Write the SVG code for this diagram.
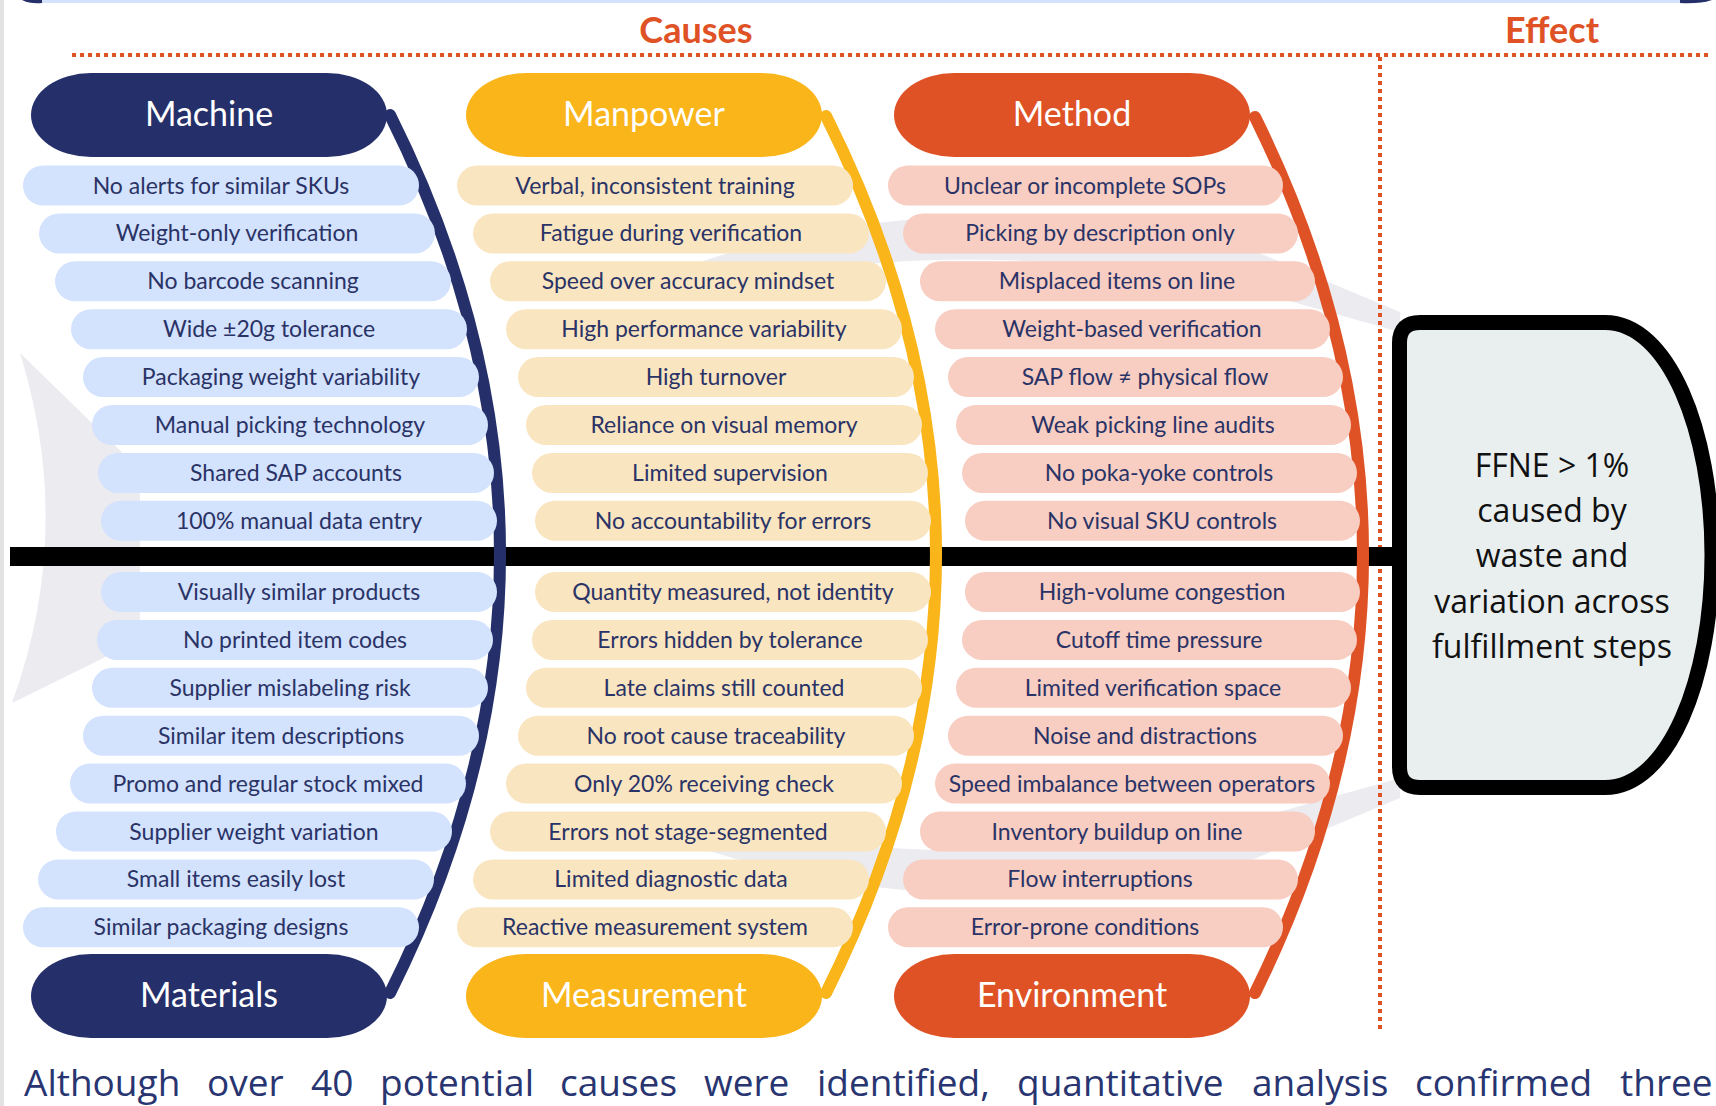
<svg xmlns="http://www.w3.org/2000/svg" width="1716" height="1106" viewBox="0 0 1716 1106">
  <style>
    .ghost { fill: #ebebf0; }
    .pm { fill: #d3e2fd; }
    .pp { fill: #fae5c1; }
    .pe { fill: #f8cdc2; }
    .t { font-family: Lato, "Liberation Sans", sans-serif; font-size: 23px; fill: #2a3366; text-anchor: middle; }
    .cat { font-family: Lato, "Liberation Sans", sans-serif; font-size: 34px; fill: #ffffff; text-anchor: middle; }
    .head { font-family: Lato, "Liberation Sans", sans-serif; font-size: 36px; font-weight: 700; fill: #df5226; text-anchor: middle; }
    .bone { fill: none; stroke-width: 12; stroke-linecap: round; }
    .dots { stroke: #df5226; stroke-width: 4; stroke-dasharray: 4 4; fill: none; }
    .eff { font-family: "Open Sans", "Liberation Sans", sans-serif; font-size: 32px; fill: #111111; text-anchor: middle; }
    .note { font-family: "Open Sans", "Liberation Sans", sans-serif; font-size: 37px; fill: #283570; }
  </style>

  <rect width="1716" height="1106" fill="#ffffff"/>
  <!-- page edge and the bottom of the block above -->
  <rect x="0" y="0" width="4" height="1106" fill="#e2e2e2"/>
  <rect x="40" y="0" width="1642" height="3" fill="#d3e2fd"/>
  <path d="M22,0 Q30,4 42,3 L42,0 Z" fill="#25306b"/>
  <path d="M1680,3 Q1700,4 1712,0 L1680,0 Z" fill="#25306b"/>

  <!-- faint fish skeleton watermark -->
  <g id="watermark">
    <path class="ghost" d="M20,353 L140,470 L140,640 L12,703 Q75,530 20,353 Z"/>
    <path class="ghost" d="M700,262 Q950,180 1240,245 L1400,312 L1400,332 L1250,290 Q950,228 700,292 Z"/>
    <path class="ghost" d="M700,848 Q950,930 1240,865 L1400,798 L1400,778 L1250,820 Q950,882 700,818 Z"/>
  </g>

  <!-- section headings and dividers -->
  <g id="headings">
    <text class="head" x="696" y="43">Causes</text>
    <text class="head" x="1552" y="43">Effect</text>
    <line class="dots" x1="72" y1="55" x2="1710" y2="55"/>
    <line class="dots" x1="1380" y1="57" x2="1380" y2="1033"/>
  </g>

  <!-- connectors: spine and category bones -->
  <g id="connectors">
    <rect x="10" y="547" width="1385" height="19" fill="#000000"/>
    <path class="bone" stroke="#25306b" d="M390,115 Q610,554 390,993"/>
    <path class="bone" stroke="#f9b51a" d="M826,116 Q1046,554 826,993"/>
    <path class="bone" stroke="#df5226" d="M1255,117 Q1471,554 1255,993"/>
  </g>

  <!-- effect -->
  <g id="effect">
    <path d="M1420,322.5 H1605 C1668,322.5 1712,430 1712,555 C1712,680 1668,787.5 1605,787.5 H1420 Q1399.5,787.5 1399.5,767 V343 Q1399.5,322.5 1420,322.5 Z" fill="#e9efef" stroke="#000000" stroke-width="15" stroke-linejoin="round"/>
    <text class="eff" x="1552" y="477">FFNE &gt; 1%</text>
    <text class="eff" x="1552" y="522">caused by</text>
    <text class="eff" x="1552" y="567">waste and</text>
    <text class="eff" x="1552" y="613">variation across</text>
    <text class="eff" x="1552" y="658">fulfillment steps</text>
  </g>

  <!-- category heads -->
  <g id="cat-machine"><rect x="31" y="73" width="356" height="84" rx="60" ry="42" fill="#25306b"/><text class="cat" x="209" y="126">Machine</text></g>
  <g id="cat-manpower"><rect x="466" y="73" width="356" height="84" rx="60" ry="42" fill="#f9b51a"/><text class="cat" x="644" y="126">Manpower</text></g>
  <g id="cat-method"><rect x="894" y="73" width="356" height="84" rx="60" ry="42" fill="#df5226"/><text class="cat" x="1072" y="126">Method</text></g>
  <g id="cat-materials"><rect x="31" y="954" width="356" height="84" rx="60" ry="42" fill="#25306b"/><text class="cat" x="209" y="1007">Materials</text></g>
  <g id="cat-measurement"><rect x="466" y="954" width="356" height="84" rx="60" ry="42" fill="#f9b51a"/><text class="cat" x="644" y="1007">Measurement</text></g>
  <g id="cat-environment"><rect x="894" y="954" width="356" height="84" rx="60" ry="42" fill="#df5226"/><text class="cat" x="1072" y="1007">Environment</text></g>

  <!-- Machine causes -->
  <g id="machine-1"><rect class="pm" x="23" y="165.5" width="396" height="40" rx="20"/><text class="t" x="221" y="193.5">No alerts for similar SKUs</text></g>
  <g id="machine-2"><rect class="pm" x="39" y="213.4" width="396" height="40" rx="20"/><text class="t" x="237" y="241.4">Weight-only verification</text></g>
  <g id="machine-3"><rect class="pm" x="55" y="261.3" width="396" height="40" rx="20"/><text class="t" x="253" y="289.3">No barcode scanning</text></g>
  <g id="machine-4"><rect class="pm" x="71" y="309.2" width="396" height="40" rx="20"/><text class="t" x="269" y="337.2">Wide ±20g tolerance</text></g>
  <g id="machine-5"><rect class="pm" x="83" y="357.1" width="396" height="40" rx="20"/><text class="t" x="281" y="385.1">Packaging weight variability</text></g>
  <g id="machine-6"><rect class="pm" x="92" y="405" width="396" height="40" rx="20"/><text class="t" x="290" y="433">Manual picking technology</text></g>
  <g id="machine-7"><rect class="pm" x="98" y="452.9" width="396" height="40" rx="20"/><text class="t" x="296" y="480.9">Shared SAP accounts</text></g>
  <g id="machine-8"><rect class="pm" x="101" y="500.8" width="396" height="40" rx="20"/><text class="t" x="299" y="528.8">100% manual data entry</text></g>

  <!-- Materials causes -->
  <g id="materials-1"><rect class="pm" x="101" y="572" width="396" height="40" rx="20"/><text class="t" x="299" y="600">Visually similar products</text></g>
  <g id="materials-2"><rect class="pm" x="97" y="619.9" width="396" height="40" rx="20"/><text class="t" x="295" y="647.9">No printed item codes</text></g>
  <g id="materials-3"><rect class="pm" x="92" y="667.8" width="396" height="40" rx="20"/><text class="t" x="290" y="695.8">Supplier mislabeling risk</text></g>
  <g id="materials-4"><rect class="pm" x="83" y="715.7" width="396" height="40" rx="20"/><text class="t" x="281" y="743.7">Similar item descriptions</text></g>
  <g id="materials-5"><rect class="pm" x="70" y="763.6" width="396" height="40" rx="20"/><text class="t" x="268" y="791.6">Promo and regular stock mixed</text></g>
  <g id="materials-6"><rect class="pm" x="56" y="811.5" width="396" height="40" rx="20"/><text class="t" x="254" y="839.5">Supplier weight variation</text></g>
  <g id="materials-7"><rect class="pm" x="38" y="859.4" width="396" height="40" rx="20"/><text class="t" x="236" y="887.4">Small items easily lost</text></g>
  <g id="materials-8"><rect class="pm" x="23" y="907.3" width="396" height="40" rx="20"/><text class="t" x="221" y="935.3">Similar packaging designs</text></g>

  <!-- Manpower causes -->
  <g id="manpower-1"><rect class="pp" x="457" y="165.5" width="396" height="40" rx="20"/><text class="t" x="655" y="193.5">Verbal, inconsistent training</text></g>
  <g id="manpower-2"><rect class="pp" x="473" y="213.4" width="396" height="40" rx="20"/><text class="t" x="671" y="241.4">Fatigue during verification</text></g>
  <g id="manpower-3"><rect class="pp" x="490" y="261.3" width="396" height="40" rx="20"/><text class="t" x="688" y="289.3">Speed over accuracy mindset</text></g>
  <g id="manpower-4"><rect class="pp" x="506" y="309.2" width="396" height="40" rx="20"/><text class="t" x="704" y="337.2">High performance variability</text></g>
  <g id="manpower-5"><rect class="pp" x="518" y="357.1" width="396" height="40" rx="20"/><text class="t" x="716" y="385.1">High turnover</text></g>
  <g id="manpower-6"><rect class="pp" x="526" y="405" width="396" height="40" rx="20"/><text class="t" x="724" y="433">Reliance on visual memory</text></g>
  <g id="manpower-7"><rect class="pp" x="532" y="452.9" width="396" height="40" rx="20"/><text class="t" x="730" y="480.9">Limited supervision</text></g>
  <g id="manpower-8"><rect class="pp" x="535" y="500.8" width="396" height="40" rx="20"/><text class="t" x="733" y="528.8">No accountability for errors</text></g>

  <!-- Measurement causes -->
  <g id="measurement-1"><rect class="pp" x="535" y="572" width="396" height="40" rx="20"/><text class="t" x="733" y="600">Quantity measured, not identity</text></g>
  <g id="measurement-2"><rect class="pp" x="532" y="619.9" width="396" height="40" rx="20"/><text class="t" x="730" y="647.9">Errors hidden by tolerance</text></g>
  <g id="measurement-3"><rect class="pp" x="526" y="667.8" width="396" height="40" rx="20"/><text class="t" x="724" y="695.8">Late claims still counted</text></g>
  <g id="measurement-4"><rect class="pp" x="518" y="715.7" width="396" height="40" rx="20"/><text class="t" x="716" y="743.7">No root cause traceability</text></g>
  <g id="measurement-5"><rect class="pp" x="506" y="763.6" width="396" height="40" rx="20"/><text class="t" x="704" y="791.6">Only 20% receiving check</text></g>
  <g id="measurement-6"><rect class="pp" x="490" y="811.5" width="396" height="40" rx="20"/><text class="t" x="688" y="839.5">Errors not stage-segmented</text></g>
  <g id="measurement-7"><rect class="pp" x="473" y="859.4" width="396" height="40" rx="20"/><text class="t" x="671" y="887.4">Limited diagnostic data</text></g>
  <g id="measurement-8"><rect class="pp" x="457" y="907.3" width="396" height="40" rx="20"/><text class="t" x="655" y="935.3">Reactive measurement system</text></g>

  <!-- Method causes -->
  <g id="method-1"><rect class="pe" x="888" y="165.5" width="395" height="40" rx="20"/><text class="t" x="1085" y="193.5">Unclear or incomplete SOPs</text></g>
  <g id="method-2"><rect class="pe" x="903" y="213.4" width="395" height="40" rx="20"/><text class="t" x="1100" y="241.4">Picking by description only</text></g>
  <g id="method-3"><rect class="pe" x="920" y="261.3" width="395" height="40" rx="20"/><text class="t" x="1117" y="289.3">Misplaced items on line</text></g>
  <g id="method-4"><rect class="pe" x="935" y="309.2" width="395" height="40" rx="20"/><text class="t" x="1132" y="337.2">Weight-based verification</text></g>
  <g id="method-5"><rect class="pe" x="948" y="357.1" width="395" height="40" rx="20"/><text class="t" x="1145" y="385.1">SAP flow ≠ physical flow</text></g>
  <g id="method-6"><rect class="pe" x="956" y="405" width="395" height="40" rx="20"/><text class="t" x="1153" y="433">Weak picking line audits</text></g>
  <g id="method-7"><rect class="pe" x="962" y="452.9" width="395" height="40" rx="20"/><text class="t" x="1159" y="480.9">No poka-yoke controls</text></g>
  <g id="method-8"><rect class="pe" x="965" y="500.8" width="395" height="40" rx="20"/><text class="t" x="1162" y="528.8">No visual SKU controls</text></g>

  <!-- Environment causes -->
  <g id="environment-1"><rect class="pe" x="965" y="572" width="395" height="40" rx="20"/><text class="t" x="1162" y="600">High-volume congestion</text></g>
  <g id="environment-2"><rect class="pe" x="962" y="619.9" width="395" height="40" rx="20"/><text class="t" x="1159" y="647.9">Cutoff time pressure</text></g>
  <g id="environment-3"><rect class="pe" x="956" y="667.8" width="395" height="40" rx="20"/><text class="t" x="1153" y="695.8">Limited verification space</text></g>
  <g id="environment-4"><rect class="pe" x="948" y="715.7" width="395" height="40" rx="20"/><text class="t" x="1145" y="743.7">Noise and distractions</text></g>
  <g id="environment-5"><rect class="pe" x="935" y="763.6" width="395" height="40" rx="20"/><text class="t" x="1132" y="791.6">Speed imbalance between operators</text></g>
  <g id="environment-6"><rect class="pe" x="920" y="811.5" width="395" height="40" rx="20"/><text class="t" x="1117" y="839.5">Inventory buildup on line</text></g>
  <g id="environment-7"><rect class="pe" x="903" y="859.4" width="395" height="40" rx="20"/><text class="t" x="1100" y="887.4">Flow interruptions</text></g>
  <g id="environment-8"><rect class="pe" x="888" y="907.3" width="395" height="40" rx="20"/><text class="t" x="1085" y="935.3">Error-prone conditions</text></g>

  <!-- closing sentence, justified word by word -->
  <text class="note" y="1096"><tspan x="24">Although</tspan><tspan x="207">over</tspan><tspan x="311">40</tspan><tspan x="380">potential</tspan><tspan x="560">causes</tspan><tspan x="704">were</tspan><tspan x="817">identified,</tspan><tspan x="1017">quantitative</tspan><tspan x="1252">analysis</tspan><tspan x="1415">confirmed</tspan><tspan x="1620">three</tspan></text>
</svg>
